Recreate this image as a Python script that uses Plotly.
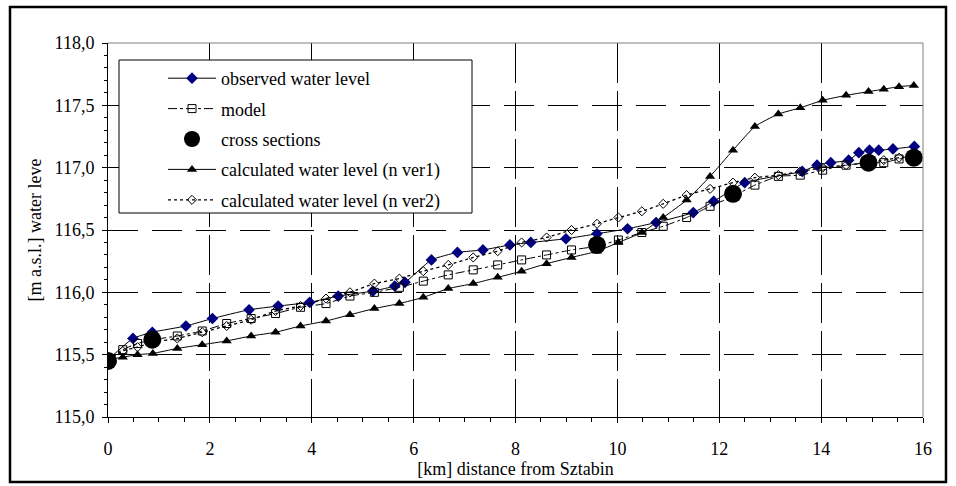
import plotly.graph_objects as go

# ---- data ----
x_obs = [0, 0.49, 0.87, 1.53, 2.05, 2.77, 3.34, 3.96, 4.52, 5.20,
         5.63, 5.83, 6.35, 6.86, 7.36, 7.89, 8.30, 8.99, 9.60, 10.20,
         10.76, 11.49, 11.89, 12.50, 13.63, 13.92, 14.19, 14.54, 14.74, 14.95,
         15.13, 15.41, 15.83]
observed = [115.46, 115.63, 115.68, 115.73, 115.79, 115.86, 115.89, 115.92, 115.97, 116.01,
            116.05, 116.08, 116.26, 116.32, 116.34, 116.38, 116.40, 116.43, 116.47, 116.51,
            116.56, 116.64, 116.73, 116.88, 116.97, 117.02, 117.04, 117.06, 117.12, 117.14,
            117.14, 117.15, 117.17]

x_calc = [0, 0.29, 0.58, 0.88, 1.36, 1.85, 2.33, 2.81, 3.29, 3.78, 4.28, 4.75, 5.23,
          5.72, 6.19, 6.68, 7.17, 7.65, 8.12, 8.61, 9.10, 9.60, 10.02, 10.48, 10.90,
          11.36, 11.82, 12.27, 12.70, 13.16, 13.59, 14.03, 14.49, 14.93, 15.23, 15.53, 15.82]
model = [115.46, 115.54, 115.59, 115.62, 115.65, 115.69, 115.75, 115.79, 115.83, 115.88, 115.91, 115.97,
         116.00, 116.04, 116.09, 116.14, 116.18, 116.22, 116.26, 116.30, 116.34, 116.37, 116.42, 116.48,
         116.53, 116.60, 116.69, 116.77, 116.86, 116.93, 116.94, 116.98, 117.02, 117.04, 117.04, 117.07, 117.08]
ver1 = [115.46, 115.48, 115.50, 115.51, 115.55, 115.58, 115.61, 115.65, 115.68, 115.73, 115.77, 115.82,
        115.87, 115.91, 115.96, 116.03, 116.07, 116.12, 116.17, 116.23, 116.28, 116.33, 116.40, 116.48,
        116.60, 116.74, 116.93, 117.14, 117.33, 117.43, 117.48, 117.54, 117.58, 117.61, 117.63, 117.65, 117.66]
ver2 = [115.46, 115.53, 115.56, 115.60, 115.63, 115.68, 115.73, 115.78, 115.85, 115.89, 115.95,
        116.00, 116.07, 116.11, 116.17, 116.22, 116.28, 116.33, 116.40, 116.44, 116.50, 116.55, 116.60,
        116.65, 116.71, 116.78, 116.83, 116.88, 116.92, 116.94, 116.97,
        117.00, 117.02, 117.04, 117.06, 117.08, 117.09]

x_cross = [0, 0.87, 9.60, 12.27, 14.93, 15.82]
cross = [115.45, 115.62, 116.38, 116.79, 117.04, 117.08]

names = ["observed water level", "model", "cross sections",
         "calculated water level (n ver1)", "calculated water level (n ver2)"]

FONT = "Liberation Serif"
FS = 18

fig = go.Figure()
fig.add_trace(go.Scatter(x=x_obs, y=observed, name=names[0], mode="lines+markers",
                         line=dict(color="black", width=1, shape="spline", smoothing=0.5),
                         marker=dict(symbol="diamond", size=9, color="#000080"),
                         legendgroup="a"))
fig.add_trace(go.Scatter(x=x_calc, y=model, name=names[1], mode="lines+markers",
                         line=dict(color="black", width=1, dash="dashdot", shape="spline", smoothing=0.5),
                         marker=dict(symbol="square-open", size=8, color="black", line=dict(width=1)),
                         legendgroup="b"))
fig.add_trace(go.Scatter(x=x_cross, y=cross, name=names[2], mode="markers",
                         marker=dict(symbol="circle", size=18, color="black"),
                         legendgroup="c"))
fig.add_trace(go.Scatter(x=x_calc, y=ver1, name=names[3], mode="lines+markers",
                         line=dict(color="black", width=1, shape="spline", smoothing=0.5),
                         marker=dict(symbol="triangle-up", size=9, color="black"),
                         legendgroup="d"))
fig.add_trace(go.Scatter(x=x_calc, y=ver2, name=names[4], mode="lines+markers",
                         line=dict(color="black", width=1.3, dash="dot", shape="spline", smoothing=0.5),
                         marker=dict(symbol="diamond-open", size=7, color="black", line=dict(width=1)),
                         legendgroup="e"))

L, R, T, B = 108, 33, 43, 69
W, H = 956, 486
pw, ph = W - L - R, H - T - B

def px(xp):
    return (xp - L) / pw

def py(yp):
    return (H - B - yp) / ph

fig.update_layout(
    width=W, height=H,
    margin=dict(l=L, r=R, t=T, b=B, pad=0),
    paper_bgcolor="white", plot_bgcolor="white",
    separators=", ",
    font=dict(family=FONT, size=FS, color="black"),
    showlegend=True,
    legend=dict(x=px(163), y=py(60), xanchor="left", yanchor="top",
                bgcolor="rgba(0,0,0,0)", borderwidth=0,
                font=dict(family=FONT, size=FS), itemwidth=48,
                traceorder="grouped", tracegroupgap=4),
    xaxis=dict(range=[0, 16], tickvals=[0, 2, 4, 6, 8, 10, 12, 14, 16],
               showline=True, linecolor="black", linewidth=1,
               ticks="outside", ticklen=5, tickcolor="black",
               ticklabelstandoff=10, tickfont=dict(family=FONT, size=FS),
               minor=dict(dtick=0.5, ticks="outside", ticklen=4, tickcolor="black", showgrid=False),
               showgrid=True, gridcolor="black", gridwidth=1, griddash="40px,8px",
               zeroline=False,
               title=dict(text="[km] distance from Sztabin", standoff=0,
                          font=dict(family=FONT, size=FS))),
    yaxis=dict(range=[115, 118], dtick=0.5, tickformat=".1f",
               showline=True, linecolor="black", linewidth=1,
               ticks="outside", ticklen=5, tickcolor="black",
               ticklabelstandoff=4, tickfont=dict(family=FONT, size=FS),
               minor=dict(dtick=0.1, ticks="outside", ticklen=3, tickcolor="black", showgrid=False),
               showgrid=True, gridcolor="black", gridwidth=1, griddash="30px,14px",
               zeroline=False,
               title=dict(text="[m a.s.l.] water leve", standoff=8,
                          font=dict(family=FONT, size=FS))),
)

# plot-area frame (top/right), legend box and outer border
fig.add_shape(type="line", xref="paper", yref="paper", x0=0, x1=1, y0=1, y1=1,
              line=dict(color="#808080", width=1))
fig.add_shape(type="line", xref="paper", yref="paper", x0=1, x1=1, y0=0, y1=1,
              line=dict(color="#808080", width=1))
fig.add_shape(type="rect", xref="paper", yref="paper",
              x0=px(119), x1=px(472), y0=py(213), y1=py(60),
              line=dict(color="black", width=1), fillcolor="white", layer="above")
fig.add_shape(type="rect", xref="paper", yref="paper",
              x0=px(10), x1=px(946), y0=py(482), y1=py(7),
              line=dict(color="black", width=2.5), fillcolor="rgba(0,0,0,0)", layer="below")

fig.write_html("out.html")
